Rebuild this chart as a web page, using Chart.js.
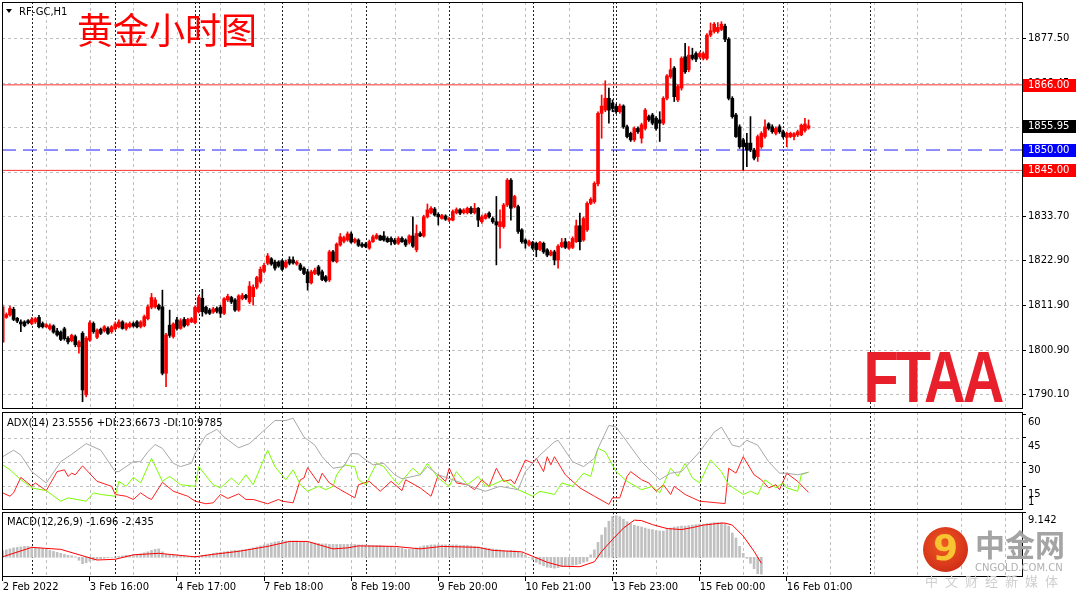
<!DOCTYPE html>
<html>
<head>
<meta charset="utf-8">
<script src="https://cdn.jsdelivr.net/npm/chart.js"></script>
<style>
  body { margin: 0; width: 1080px; height: 599px; overflow: hidden; position: relative; background: #fff; font-family: "DejaVu Sans", sans-serif; }
  canvas { position: absolute; left: 0; }
  .txt { position: absolute; font-size: 10px; line-height: 12px; white-space: nowrap; color: #000; z-index: 3; }
  .tri { position: absolute; left: 6px; top: 9px; width: 0; height: 0; border-left: 3.5px solid transparent; border-right: 3.5px solid transparent; border-top: 4.5px solid #000; z-index: 3; }
  #title { position: absolute; left: 77px; top: 10px; font: 36px/36px "Noto Sans CJK SC", sans-serif; color: #ff0000; z-index: 3; white-space: nowrap; }
  #wmLogo { position: absolute; left: 923px; top: 527px; width: 45px; height: 45px; border-radius: 50%; z-index: 4;
            background: radial-gradient(circle at 45% 40%, #ef5a22 0%, #d8361a 60%, #b82412 100%); overflow: hidden; }
  #wmLogo span { position: absolute; left: 10px; top: 1px; font: bold 36px/40px "DejaVu Sans", sans-serif; color: #f7c531; }
  .wm { position: absolute; white-space: nowrap; z-index: 4; }
  .wm1 { left: 975px; top: 528px; font: bold 30px/30px "Noto Sans CJK SC", sans-serif; color: #a4a4a4; }
  .wm2 { left: 975px; top: 562px; font: 10px/12px "DejaVu Sans", sans-serif; color: #b0b0b0; }
  .wm3 { left: 925px; top: 574px; font: 13px/13px "Noto Sans CJK SC", sans-serif; color: #cfcfcf; letter-spacing: 7px; }
</style>
</head>
<body>
<canvas id="priceChart" width="1080" height="411" style="top:0"></canvas>
<canvas id="adxChart" width="1080" height="101" style="top:410px"></canvas>
<canvas id="macdChart" width="1080" height="88" style="top:511px"></canvas>

<div class="tri"></div>
<div class="txt" style="left:19px;top:6px">RF-GC,H1</div>
<div id="title">黄金小时图</div>
<div class="txt" style="left:7px;top:417px">ADX(14) 23.5556 +DI:23.6673 -DI:10.9785</div>
<div class="txt" style="left:7px;top:516px">MACD(12,26,9) -1.696 -2.435</div>

<div id="wmLogo"><span>9</span></div>
<div class="wm wm1">中金网</div>
<div class="wm wm2">CNGOLD.COM.CN</div>
<div class="wm wm3">中文财经新媒体</div>

<script>
// hourly candles, bar index 0 = 2 Feb 2022
const opens = [
  1802.9,1808.9,1809.5,1810.9,1808.7,1807.8,1807.8,1808.1,1807.4,1807.8,
  1808.9,1807.4,1806.6,1806.1,1806.8,1805.6,1805.3,1806.1,1803.8,1803.2,
  1804.2,1801.7,1805.0,1789.9,1803.3,1807.4,1804.0,1806.0,1805.6,1806.2,
  1805.4,1806.1,1806.6,1807.8,1806.2,1806.6,1807.4,1807.8,1806.6,1806.9,
  1808.6,1811.4,1811.5,1811.9,1811.5,1795.2,1807.0,1804.2,1808.3,1806.2,
  1808.4,1807.1,1807.8,1807.6,1810.3,1813.6,1811.4,1810.7,1810.2,1811.1,
  1811.4,1809.9,1813.2,1813.8,1813.2,1810.7,1813.5,1814.3,1812.7,1814.0,
  1816.3,1817.7,1820.2,1822.2,1823.3,1822.5,1822.5,1822.8,1821.3,1823.1,
  1823.0,1822.0,1821.8,1821.0,1820.1,1817.4,1819.7,1821.3,1820.1,1818.9,
  1818.1,1825.0,1822.6,1826.7,1827.6,1827.9,1829.4,1827.4,1827.9,1826.9,
  1826.9,1825.9,1827.5,1828.3,1828.9,1828.9,1828.3,1828.3,1827.9,1827.1,
  1828.3,1827.9,1827.3,1828.9,1825.5,1829.5,1828.9,1833.6,1834.6,1835.5,
  1834.2,1833.2,1833.8,1832.8,1832.8,1834.6,1835.3,1834.6,1834.6,1835.7,
  1834.6,1835.7,1832.4,1833.2,1834.5,1833.2,1832.4,1831.2,1831.2,1836.5,
  1842.6,1836.1,1836.1,1830.4,1827.9,1826.7,1827.3,1827.1,1825.6,1827.1,
  1825.5,1824.2,1825.0,1823.0,1826.3,1827.5,1825.9,1826.1,1827.5,1831.4,
  1827.9,1830.4,1836.9,1837.3,1841.7,1859.0,1859.8,1862.7,1861.5,1860.7,
  1859.4,1860.8,1855.7,1854.1,1852.5,1855.3,1852.9,1855.3,1858.2,1858.6,
  1857.8,1857.4,1856.6,1862.7,1868.0,1870.1,1862.3,1865.2,1872.9,1869.7,
  1873.3,1873.7,1872.9,1872.5,1872.5,1878.2,1879.1,1879.1,1879.6,1880.4,
  1877.2,1862.7,1858.6,1855.7,1852.5,1851.7,1851.7,1850.0,1848.4,1850.8,
  1853.3,1856.4,1855.7,1854.1,1855.7,1854.5,1853.1,1853.3,1853.3,1853.7,
  1853.7,1854.8,1855.4
];
const highs = [
  1812.0,1810.0,1811.7,1811.4,1808.9,1808.3,1808.1,1808.4,1808.9,1808.9,
  1809.4,1807.8,1807.4,1807.3,1807.1,1806.2,1805.6,1806.5,1804.2,1804.8,
  1804.6,1803.2,1805.4,1804.2,1808.1,1807.8,1806.1,1806.3,1806.9,1806.6,
  1806.9,1807.8,1808.3,1808.1,1807.6,1807.8,1807.8,1808.1,1808.1,1809.5,
  1812.0,1814.8,1813.8,1812.2,1815.6,1805.0,1810.7,1807.6,1808.9,1808.6,
  1808.9,1808.7,1808.9,1811.7,1814.3,1815.8,1811.7,1811.1,1811.4,1811.5,
  1811.9,1813.8,1814.6,1814.1,1813.5,1814.5,1814.8,1814.6,1817.7,1816.9,
  1819.0,1821.3,1822.2,1824.6,1823.6,1823.0,1822.8,1823.1,1823.0,1823.8,
  1823.8,1822.8,1822.2,1821.3,1820.7,1820.5,1821.0,1821.7,1820.5,1819.2,
  1825.4,1825.4,1827.2,1829.5,1828.9,1829.9,1829.9,1828.4,1828.2,1827.3,
  1827.3,1827.9,1829.1,1829.5,1829.1,1830.0,1828.7,1828.7,1828.3,1828.7,
  1828.7,1828.2,1829.2,1833.6,1831.6,1829.9,1834.0,1836.75,1836.1,1835.9,
  1834.6,1834.2,1834.1,1833.5,1835.3,1835.8,1835.6,1835.6,1836.0,1836.1,
  1836.9,1835.9,1834.0,1834.4,1834.8,1833.6,1838.6,1835.3,1836.9,1843.0,
  1843.0,1838.9,1836.5,1830.7,1828.2,1827.9,1827.6,1827.4,1827.6,1827.4,
  1825.8,1825.4,1825.4,1826.8,1828.3,1828.3,1827.6,1828.7,1832.8,1834.5,
  1833.6,1837.3,1838.3,1842.2,1859.4,1863.5,1867.0,1865.2,1862.3,1861.3,
  1861.3,1861.1,1856.1,1854.4,1855.7,1855.7,1856.6,1860.2,1858.6,1859.0,
  1858.2,1859.4,1863.1,1868.5,1872.5,1870.5,1866.0,1872.9,1876.2,1875.4,
  1875.0,1874.1,1874.1,1874.1,1878.6,1881.2,1881.3,1881.3,1881.5,1880.9,
  1877.6,1863.1,1859.0,1856.2,1852.9,1854.1,1858.2,1850.4,1853.7,1854.5,
  1857.4,1856.7,1856.2,1855.7,1856.2,1854.9,1854.4,1854.4,1854.3,1854.9,
  1856.4,1857.8,1857.4
];
const lows = [
  1802.7,1808.7,1809.2,1808.1,1807.6,1805.4,1806.6,1807.3,1807.1,1807.4,
  1806.3,1806.3,1806.4,1805.8,1805.0,1804.3,1803.2,1803.3,1802.4,1802.9,
  1801.7,1800.1,1788.2,1789.4,1803.0,1805.0,1803.7,1804.7,1805.3,1804.7,
  1805.0,1805.8,1806.3,1806.0,1805.8,1806.3,1806.5,1806.3,1806.3,1806.6,
  1808.3,1811.0,1811.2,1810.7,1794.8,1791.9,1804.0,1803.8,1805.8,1806.0,
  1806.5,1806.8,1807.6,1807.3,1810.0,1809.2,1809.7,1809.6,1809.9,1810.0,
  1808.9,1809.6,1812.8,1812.3,1810.4,1810.4,1813.2,1813.3,1812.3,1811.9,
  1815.9,1817.3,1819.9,1821.8,1821.7,1820.5,1821.2,1820.4,1821.0,1821.8,
  1822.0,1821.7,1820.4,1819.4,1815.6,1817.1,1819.4,1819.2,1817.9,1817.6,
  1817.7,1822.5,1822.3,1826.4,1827.2,1827.6,1827.1,1827.1,1826.3,1826.1,
  1826.0,1825.6,1827.3,1828.1,1827.8,1827.6,1827.3,1826.7,1826.8,1826.8,
  1827.3,1826.3,1826.9,1826.1,1825.0,1828.7,1828.6,1833.3,1834.3,1833.8,
  1831.6,1833.0,1832.7,1832.4,1832.6,1834.3,1834.1,1834.3,1834.3,1834.3,
  1834.3,1831.2,1832.0,1833.0,1833.3,1832.0,1821.8,1825.9,1830.8,1836.1,
  1832.8,1835.8,1829.5,1827.1,1825.9,1826.4,1825.5,1823.8,1825.3,1824.6,
  1823.8,1824.0,1821.8,1821.0,1826.0,1825.8,1825.6,1825.8,1827.3,1825.5,
  1827.6,1830.0,1836.6,1836.9,1841.2,1852.9,1859.4,1856.6,1859.4,1859.0,
  1859.0,1855.3,1853.0,1852.1,1852.1,1854.1,1851.7,1854.9,1857.0,1856.2,
  1854.9,1852.1,1856.2,1862.3,1867.6,1861.9,1861.9,1864.7,1868.8,1869.2,
  1872.1,1871.7,1872.5,1872.1,1872.1,1877.8,1878.7,1878.7,1879.3,1876.6,
  1862.3,1857.8,1853.1,1850.4,1845.1,1845.9,1849.6,1847.6,1847.2,1850.4,
  1852.9,1854.9,1854.1,1853.7,1854.1,1852.9,1850.8,1853.0,1852.5,1853.3,
  1853.5,1854.4,1855.1
];
const closes = [
  1811.5,1809.6,1811.1,1808.4,1808.0,1807.3,1806.9,1807.6,1808.4,1808.6,
  1806.6,1806.6,1807.1,1806.9,1805.3,1804.6,1803.5,1803.7,1802.9,1804.5,
  1802.2,1802.9,1791.1,1803.8,1807.6,1805.4,1805.8,1805.0,1806.6,1805.0,
  1806.6,1807.3,1807.8,1806.2,1807.3,1807.4,1806.8,1806.6,1807.8,1809.1,
  1811.5,1813.8,1813.2,1811.0,1795.2,1804.6,1804.5,1807.3,1806.2,1808.1,
  1806.8,1808.4,1808.6,1811.4,1813.8,1810.3,1810.0,1809.9,1811.0,1810.4,
  1809.9,1813.5,1814.1,1812.7,1810.7,1814.2,1814.3,1813.7,1816.6,1816.3,
  1818.7,1820.7,1821.7,1824.0,1822.0,1821.0,1821.5,1820.7,1822.5,1822.2,
  1822.3,1822.5,1820.7,1819.7,1817.4,1820.1,1820.5,1819.5,1818.2,1817.9,
  1825.0,1822.8,1826.9,1828.7,1828.5,1829.4,1827.4,1828.1,1826.6,1826.4,
  1826.3,1827.5,1828.7,1829.1,1827.9,1827.9,1827.5,1827.5,1827.1,1828.3,
  1827.5,1826.7,1828.9,1826.4,1829.5,1828.9,1833.6,1835.3,1835.7,1834.05,
  1833.6,1833.9,1833.0,1833.2,1834.9,1835.4,1834.5,1835.3,1835.7,1834.6,
  1835.7,1832.8,1833.6,1834.05,1833.6,1832.4,1831.6,1832.4,1836.5,1842.6,
  1835.7,1838.6,1830.0,1827.5,1827.1,1827.5,1825.9,1825.5,1827.3,1825.0,
  1824.2,1825.0,1823.0,1826.4,1827.3,1826.1,1827.3,1828.3,1831.4,1827.5,
  1833.2,1836.9,1837.9,1841.8,1859.0,1860.8,1862.7,1859.8,1860.2,1859.4,
  1860.8,1855.7,1853.3,1852.5,1855.3,1854.5,1856.2,1859.8,1857.4,1856.6,
  1855.3,1856.6,1862.7,1868.2,1869.7,1863.1,1865.6,1872.5,1869.2,1873.3,
  1872.5,1872.3,1873.7,1873.7,1878.2,1879.3,1880.9,1880.1,1880.9,1877.2,
  1862.7,1858.2,1853.3,1850.8,1850.8,1850.0,1850.0,1848.0,1853.3,1854.1,
  1855.7,1855.3,1854.5,1855.3,1854.5,1853.3,1854.1,1854.1,1854.0,1854.5,
  1856.1,1856.4,1855.95
];

// ADX(14) lines as [bar, value]
const adxMain = [[0,33.3],[3,37.4],[5,34.3],[8,24.0],[12,16.9],[16,30.2],[19,34.8],[23,41.5],[27,37.4],[31,24.0],
  [32,24.0],[36,30.2],[38,30.2],[40,36.4],[42,40.9],[44,38.5],[47,29.2],[49,27.1],[52,29.2],[53,35.4],
  [56,46.7],[59,50.4],[61,45.6],[64,40.5],[65,38.9],[68,41.5],[72,49.8],[75,55.9],[78,55.9],[80,57.4],
  [83,45.6],[86,40.5],[88,33.3],[91,26.1],[94,27.1],[96,35.4],[98,35.0],[99,33.0],[102,28.2],[105,29.2],
  [108,22.0],[110,19.5],[115,22.0],[117,27.1],[120,22.0],[124,18.9],[129,14.8],[133,11.7],[137,14.8],[142,12.7],
  [144,24.0],[148,34.3],[152,42.6],[153,43.6],[157,30.2],[160,27.1],[163,32.3],[164,38.5],[167,52.9],[169,51.8],
  [172,42.6],[176,30.2],[181,18.9],[184,23.0],[187,24.0],[192,36.4],[196,48.7],[198,51.8],[201,40.5],[203,39.5],
  [205,43.6],[208,40.5],[211,30.2],[214,23.0],[216,23.0],[219,22.0],[222,23.6]];
const plusDI = [[0,28.2],[2,25.1],[5,18.9],[7,15.8],[8,13.8],[12,12.1],[16,5.5],[18,7.6],[23,5.5],[25,10.7],
  [27,9.7],[31,8.6],[32,17.9],[34,14.8],[36,20.4],[38,16.9],[41,32.3],[44,17.9],[46,21.0],[49,15.8],
  [53,14.8],[54,27.1],[58,15.8],[60,13.8],[63,20.0],[65,15.8],[67,22.0],[69,15.8],[73,37.4],[75,27.1],
  [78,18.9],[80,25.1],[82,15.8],[84,11.7],[87,14.8],[89,12.7],[91,14.8],[92,22.0],[94,28.2],[97,27.1],
  [98,19.0],[100,15.8],[103,29.2],[105,27.1],[107,21.0],[109,15.8],[113,26.1],[115,22.0],[117,29.2],[120,20.0],
  [123,14.8],[125,24.0],[128,15.8],[131,21.0],[133,14.8],[135,15.8],[138,18.9],[142,12.7],[146,8.6],[148,11.7],
  [152,9.7],[154,16.9],[157,14.8],[160,23.0],[162,21.0],[164,38.5],[166,36.4],[169,24.0],[172,17.9],[176,12.7],
  [179,14.8],[181,10.7],[184,26.1],[186,21.0],[188,29.2],[190,20.0],[192,16.9],[195,31.3],[198,24.0],[200,15.8],
  [204,9.7],[206,11.7],[208,9.7],[210,18.9],[213,13.8],[215,16.9],[216,13.8],[219,11.7],[220,22.0],[222,23.7]];
const minusDI = [[0,10.7],[2,8.6],[3,10.7],[5,20.4],[8,14.8],[9,16.9],[12,12.1],[15,24.0],[17,25.1],[18,21.0],
  [19,23.0],[20,22.0],[22,27.6],[26,17.9],[30,14.8],[31,9.7],[34,8.6],[36,6.6],[38,10.7],[40,7.6],
  [41,6.6],[44,17.3],[47,11.7],[51,8.6],[53,5.5],[56,3.9],[58,4.5],[60,9.7],[62,7.2],[65,10.1],
  [67,6.6],[69,6.6],[73,3.9],[76,6.6],[77,5.5],[80,4.5],[82,18.9],[83,20.0],[84,26.5],[87,16.9],
  [88,23.0],[90,16.9],[93,12.7],[97,7.6],[98,15.8],[101,17.9],[104,11.7],[107,17.9],[110,12.1],[111,18.9],
  [115,13.8],[118,8.6],[120,22.0],[122,17.9],[123,26.1],[125,16.9],[128,15.8],[130,12.7],[132,18.9],[134,14.8],
  [136,26.1],[138,17.9],[140,18.9],[141,16.3],[144,31.3],[146,29.2],[147,32.3],[149,24.0],[150,33.3],[151,28.2],
  [152,33.3],[155,22.0],[159,13.8],[163,8.6],[167,3.5],[168,7.6],[170,7.6],[172,21.0],[173,24.0],[176,18.9],
  [178,16.9],[180,11.7],[182,15.8],[184,9.7],[185,14.8],[188,9.7],[192,5.5],[199,4.0],[200,26.1],[202,23.0],
  [204,33.3],[207,22.0],[209,18.9],[211,13.8],[213,15.8],[214,12.7],[216,23.0],[219,17.9],[222,11.0]];

// MACD(12,26,9): histogram per bar, signal as [bar, value]
const macdHist = [
  1.3,1.5,1.7,1.9,2.0,2.1,2.2,2.2,2.1,2.0,1.9,1.8,1.6,1.4,1.2,1.0,0.8,0.6,0.4,0.3,0.1,
  -0.6,-1.3,-1.1,-0.8,-0.6,-0.4,-0.3,-0.2,-0.1,0.0,0.1,0.2,0.3,0.4,0.4,0.5,0.6,0.7,0.9,1.1,
  1.4,1.6,1.7,1.1,0.6,0.5,0.4,0.3,0.2,0.2,0.1,0.0,-0.1,0.2,0.4,0.5,0.6,0.8,0.9,1.0,
  1.1,1.2,1.3,1.4,1.4,1.5,1.6,1.7,1.9,2.1,2.3,2.5,2.7,2.9,3.1,3.2,3.3,3.3,3.3,3.3,3.3,3.2,
  3.2,3.1,3.0,2.9,2.8,2.7,2.7,2.6,2.6,2.6,2.6,2.6,2.6,2.6,2.6,
  2.5,2.5,2.5,2.4,2.4,2.4,2.4,2.3,2.2,2.1,2.0,1.9,1.8,
  1.6,1.6,1.7,1.9,2.1,2.3,
  2.4,2.5,2.5,2.5,2.5,2.5,2.5,2.5,2.5,2.4,2.4,2.4,2.3,2.2,2.1,
  2.0,1.9,1.8,1.7,1.6,1.5,1.4,1.3,1.4,1.3,1.2,0.9,
  0.4,0.0,-0.5,-1.0,-1.4,-1.7,-2.0,-2.1,-2.2,-2.1,
  -1.9,-1.8,-1.7,-1.6,-1.5,-1.3,-1.0,-0.8,
  0.5,1.5,3.0,4.5,6.0,7.3,8.2,8.4,8.2,7.7,7.2,6.8,6.5,6.3,6.1,5.9,5.7,5.6,5.4,5.3,
  5.3,5.6,5.9,6.1,6.2,6.3,6.3,6.4,6.5,6.6,6.7,6.7,6.8,6.9,7.0,7.0,7.0,6.8,6.3,4.9,
  3.9,2.2,0.8,-0.2,-1.2,-2.3,-3.3,-3.4
];
const macdSignal = [[0,0.1],[8,2.0],[16,1.6],[26,-0.55],[31,-0.4],[36,0.5],[43,0.8],[53,0.1],[58,0.6],[65,1.2],
  [73,2.2],[79,3.2],[84,3.2],[91,1.7],[95,1.9],[98,2.3],[108,2.2],[115,1.7],[121,2.2],[131,2.0],
  [135,1.4],[143,1.1],[146,0.2],[150,-1.0],[154,-1.8],[159,-1.9],[163,-0.9],[165,1.2],[168,3.6],[171,5.9],
  [174,7.5],[176,7.4],[179,6.6],[183,5.8],[187,5.6],[190,6.0],[193,6.5],[198,6.9],[199,6.9],[201,6.5],
  [204,4.3],[207,1.2],[209,-1.2]];

// axis ticks
const priceTicks = [1790.10, 1800.90, 1811.90, 1822.90, 1833.70, 1844.65, 1855.60, 1866.45, 1877.50];
const adxTicks = [15, 30, 45, 60];
const macdTicks = [9.142];
const timeTickBars = [0, 24, 48, 72, 96, 120, 144, 168, 192, 216];
const timeLabels = ['2 Feb 2022', '3 Feb 16:00', '4 Feb 17:00', '7 Feb 18:00', '8 Feb 19:00',
  '9 Feb 20:00', '10 Feb 21:00', '13 Feb 23:00', '15 Feb 00:00', '16 Feb 01:00'];
const separatorBars = [8, 31, 53, 54, 77, 100, 123, 146, 168, 169, 192, 215, 239];
const gridBars = [];
for (let b = 12; b <= 276; b += 12) gridBars.push(b);

// horizontal price lines
const redLevels = [1866.00, 1845.00];
const blueLevels = [1850.00];

const BAR_MIN = -0.19, BAR_MAX = 280.8;
const bullColor = '#ff0000', bearColor = '#000000';

Chart.defaults.font.family = '"DejaVu Sans", sans-serif';
Chart.defaults.font.size = 10;
Chart.defaults.color = '#000';
Chart.defaults.animation = false;
Chart.defaults.events = [];
Chart.defaults.plugins.legend.display = false;
Chart.defaults.plugins.tooltip.enabled = false;

const toPoints = arr => arr.map(([i, v]) => ({ x: i, y: v }));

// grid lines, period separators and frame for each panel
const panelGrid = {
  id: 'panelGrid',
  beforeDatasetsDraw(chart, args, opts) {
    const { ctx, chartArea: a } = chart;
    const xs = chart.scales.x, ys = chart.scales.y;
    ctx.save();
    ctx.lineWidth = 1;
    ctx.strokeStyle = '#c0c0c0';
    ctx.setLineDash([3, 3]);
    ctx.beginPath();
    (opts.hLines || []).forEach(v => {
      const py = Math.round(ys.getPixelForValue(v)) + 0.5;
      ctx.moveTo(a.left, py); ctx.lineTo(a.right, py);
    });
    gridBars.forEach(b => {
      const px = Math.round(xs.getPixelForValue(b)) + 0.5;
      ctx.moveTo(px, a.top); ctx.lineTo(px, a.bottom);
    });
    ctx.stroke();
    ctx.strokeStyle = '#222';
    ctx.setLineDash([2, 2]);
    ctx.beginPath();
    separatorBars.forEach(b => {
      const px = Math.round(xs.getPixelForValue(b)) + 0.5;
      ctx.moveTo(px, a.top); ctx.lineTo(px, a.bottom);
    });
    ctx.stroke();
    ctx.restore();
  },
  afterDraw(chart, args, opts) {
    const { ctx, chartArea: a } = chart;
    ctx.save();
    ctx.strokeStyle = '#000';
    ctx.lineWidth = 1;
    ctx.strokeRect(a.left + 0.5, a.top + 0.5, a.right - a.left, a.bottom - a.top - 1);
    if (opts.minLabel) {
      ctx.font = '10px "DejaVu Sans", sans-serif';
      ctx.fillStyle = '#000';
      ctx.textBaseline = 'middle';
      ctx.fillText(opts.minLabel, a.right + 6, a.bottom - 8);
    }
    ctx.restore();
  }
};

// level lines, price tags and logo on the price panel
const priceLevels = {
  id: 'priceLevels',
  beforeDatasetsDraw(chart) {
    const { ctx, chartArea: a } = chart;
    const ys = chart.scales.y;
    ctx.save();
    ctx.lineWidth = 1;
    ctx.strokeStyle = '#ff3030';
    redLevels.forEach(v => {
      const py = ys.getPixelForValue(v);
      ctx.beginPath(); ctx.moveTo(a.left, py); ctx.lineTo(a.right, py); ctx.stroke();
    });
    ctx.strokeStyle = '#2020ff';
    ctx.setLineDash([14, 7]);
    blueLevels.forEach(v => {
      const py = ys.getPixelForValue(v);
      ctx.beginPath(); ctx.moveTo(a.left, py); ctx.lineTo(a.right, py); ctx.stroke();
    });
    ctx.restore();
  },
  afterDraw(chart) {
    const { ctx, chartArea: a } = chart;
    const ys = chart.scales.y;
    const tags = [
      ...redLevels.map(v => [v, '#ff0000']),
      ...blueLevels.map(v => [v, '#0000ff']),
      [closes[closes.length - 1], '#000000']
    ];
    ctx.save();
    ctx.font = '10px "DejaVu Sans", sans-serif';
    ctx.textBaseline = 'middle';
    tags.forEach(([v, col]) => {
      const py = Math.round(ys.getPixelForValue(v));
      ctx.fillStyle = col;
      ctx.fillRect(a.right + 1, py - 6, 53, 13);
      ctx.fillStyle = '#fff';
      ctx.fillText(v.toFixed(2), a.right + 6, py + 0.5);
    });
    // FTAA logo
    ctx.font = 'bold 100px "Liberation Sans Narrow", "Liberation Sans", sans-serif';
    ctx.letterSpacing = '-5px';
    ctx.textBaseline = 'alphabetic';
    const m = ctx.measureText('FTAA');
    const w = m.actualBoundingBoxLeft + m.actualBoundingBoxRight;
    const h = m.actualBoundingBoxAscent;
    ctx.translate(867, 402);
    ctx.scale(136 / w, 50 / h);
    ctx.fillStyle = '#e8202c';
    ctx.fillText('FTAA', m.actualBoundingBoxLeft, 0);
    ctx.restore();
  }
};

const noPad = axis => { axis.paddingTop = 0; axis.paddingBottom = 0; axis.paddingLeft = 0; axis.paddingRight = 0; };

function xAxis(show) {
  return {
    type: 'linear', min: BAR_MIN, max: BAR_MAX, offset: false, display: show,
    grid: { display: show, drawOnChartArea: false, drawTicks: true, tickLength: 4, tickColor: '#000', offset: false },
    border: { display: false },
    afterBuildTicks: axis => { axis.ticks = timeTickBars.map(v => ({ value: v })); },
    afterFit: axis => { noPad(axis); if (show) axis.height = 22; },
    ticks: {
      autoSkip: false, maxRotation: 0, minRotation: 0, align: 'start', padding: 0,
      callback: v => timeLabels[timeTickBars.indexOf(v)]
    }
  };
}

function yAxis(min, max, ticks, fmt, labelOffset) {
  return {
    type: 'linear', position: 'right', min, max,
    grid: { drawOnChartArea: false, drawTicks: true, tickLength: 4, tickColor: '#000' },
    border: { display: false },
    afterBuildTicks: axis => { axis.ticks = ticks.map(v => ({ value: v })); },
    afterFit: axis => { noPad(axis); axis.width = 58; },
    ticks: { padding: 2, labelOffset, callback: fmt }
  };
}

const candleColors = closes.map((c, i) => (c >= opens[i] ? bullColor : bearColor));

new Chart(document.getElementById('priceChart'), {
  type: 'bar',
  data: {
    datasets: [
      { label: 'body', data: closes.map((c, i) => ({ x: i, y: [opens[i], c] })), backgroundColor: candleColors,
        barThickness: 3, minBarLength: 1, grouped: false, order: 0 },
      { label: 'wick', data: closes.map((c, i) => ({ x: i, y: [lows[i], highs[i]] })), backgroundColor: candleColors,
        barThickness: 1, grouped: false, order: 1 }
    ]
  },
  options: {
    responsive: false,
    layout: { padding: { left: 2, top: 2, right: 0, bottom: 2 } },
    scales: {
      x: xAxis(false),
      y: yAxis(1786.42, 1886.34, priceTicks, v => v.toFixed(2), 0)
    },
    plugins: { panelGrid: { hLines: priceTicks } }
  },
  plugins: [panelGrid, priceLevels]
});

const lineStyle = { borderWidth: 1, pointRadius: 0, tension: 0, fill: false };

new Chart(document.getElementById('adxChart'), {
  type: 'line',
  data: {
    datasets: [
      { label: 'ADX', data: toPoints(adxMain), borderColor: '#a8a8a8', ...lineStyle },
      { label: '+DI', data: toPoints(plusDI), borderColor: '#7cfc00', ...lineStyle },
      { label: '-DI', data: toPoints(minusDI), borderColor: '#ff2020', ...lineStyle }
    ]
  },
  options: {
    responsive: false,
    layout: { padding: { left: 2, top: 2, right: 0, bottom: 1 } },
    scales: {
      x: xAxis(false),
      y: yAxis(0, 61.25, adxTicks, v => String(v), 8)
    },
    plugins: { panelGrid: { hLines: [15, 30, 45], minLabel: '1' } }
  },
  plugins: [panelGrid]
});

new Chart(document.getElementById('macdChart'), {
  type: 'bar',
  data: {
    datasets: [
      { type: 'line', label: 'Signal', data: toPoints(macdSignal), borderColor: '#ff0000', ...lineStyle, order: 0 },
      { type: 'bar', label: 'MACD', data: macdHist.map((v, i) => ({ x: i, y: v })), backgroundColor: '#c0c0c0',
        barThickness: 2, grouped: false, order: 1 }
    ]
  },
  options: {
    responsive: false,
    layout: { padding: { left: 2, top: 1, right: 0, bottom: 0 } },
    scales: {
      x: xAxis(true),
      y: yAxis(-3.976, 9.142, macdTicks, v => v.toFixed(3), 8)
    },
    plugins: { panelGrid: { hLines: [] } }
  },
  plugins: [panelGrid]
});
</script>
</body>
</html>
